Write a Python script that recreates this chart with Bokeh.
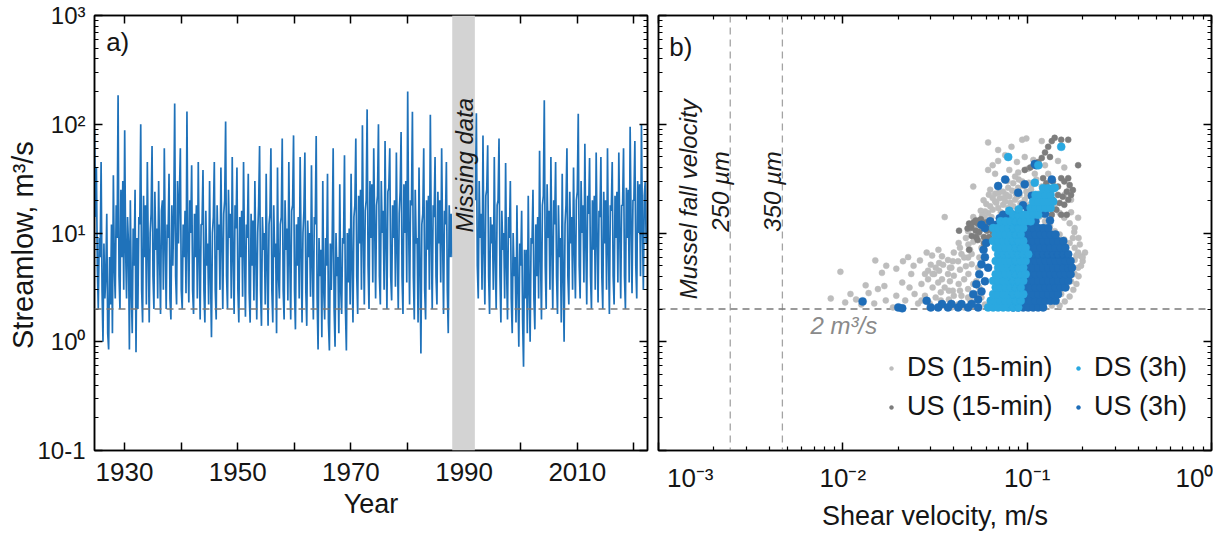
import math
from bokeh.plotting import figure
from bokeh.layouts import row
from bokeh.models import (FixedTicker, LinearAxis, LogAxis, Span, BoxAnnotation, Label,
                          Legend, LegendItem, CustomJSTickFormatter, Range1d)
from bokeh.embed import file_html
from bokeh.resources import INLINE

FONT = "Liberation Sans"

# ------------------------------------------------------------------ data
samples_per_year = 6
flow_start_pre = 1924.7
flow_pre = [
    90, 14, 40, 5, 2.0, 9,     6, 45, 3, 1.0, 8, 2.5,     4, 15, 1.2, 0.85, 6, 2.2,
    12, 1.2, 34, 5, 2.5, 18,   9, 185, 4, 2.0, 25, 6,     30, 3, 88, 7, 2.5, 14,
    8, 0.85, 20, 3, 1.2, 11,   5, 25, 0.8, 9, 2.0, 14,    12, 100, 3, 1.5, 22, 6,
    18, 2.2, 45, 7, 1.5, 10,   15, 63, 4, 2.0, 24, 7,     11, 2.5, 30, 6, 1.8, 16,
    20, 3, 60, 8, 2.0, 12,     9, 35, 2.5, 1.6, 18, 5,    14, 155, 4, 2.2, 30, 8,
    22, 60, 3, 2.0, 12, 6,     16, 2.8, 131, 7, 2.3, 20,  10, 42, 3, 1.8, 15, 6,
    18, 2.5, 45, 6, 1.6, 12,   12, 38, 3, 1.5, 16, 5,     8, 2.2, 30, 4, 1.1, 10,
    14, 45, 3, 1.6, 18, 7,     12, 3, 40, 8, 2.0, 15,     20, 106, 4, 2.0, 25, 9,
    15, 2.5, 50, 6, 1.8, 18,   11, 40, 3, 1.5, 14, 6,     16, 2.6, 45, 7, 1.7, 12,
    9, 35, 2.8, 1.5, 15, 5,    13, 2.4, 30, 6, 1.6, 10,   18, 63, 3, 1.4, 14, 7,
    10, 2.2, 35, 5, 1.4, 12,   15, 60, 3, 1.5, 18, 6,     8, 1.2, 40, 4, 2.5, 12,
    14, 74, 3, 1.6, 20, 7,     11, 2.4, 45, 6, 1.6, 16,   18, 79, 3, 1.3, 12, 5,
    14, 2.5, 50, 7, 1.5, 10,   16, 55, 3, 1.4, 13, 6,     10, 2.6, 42, 5, 1.6, 14,
    12, 78, 2.5, 0.85, 9, 4,   7, 1.1, 30, 3, 1.6, 9,     5, 35, 1.5, 0.83, 8, 3,
    9, 60, 2, 0.9, 10, 4,      6, 1.2, 28, 3, 1.8, 9,     8, 52, 2, 0.83, 10, 3.5,
    11, 2.2, 35, 5, 1.5, 14,   18, 74, 4, 1.8, 22, 8,     25, 3, 98, 10, 2.2, 16,
    20, 137, 5, 2.0, 30, 9,    28, 3.5, 60, 12, 2.5, 18,  22, 100, 4, 2.2, 30, 10,
    16, 3, 70, 8, 2.0, 24,     26, 60, 4, 2.4, 18, 9,     20, 3.2, 55, 7, 2.0, 15,
    24, 85, 4, 1.8, 28, 10,    30, 3.5, 200, 12, 2.2, 20, 18, 130, 4, 1.6, 25, 8,
    9, 1.5, 40, 5, 0.78, 12,   15, 60, 3, 1.6, 20, 7,     22, 3, 122, 9, 2.0, 18,
    14, 50, 4, 2.2, 24, 8,     20, 3.5, 60, 9, 1.8, 16,   12, 45, 3, 1.2, 18, 6,
    15, 6,
]
flow_start_post = 1992.0
flow_post = [
    20, 126, 5, 2.5, 30, 9,    15, 3, 79, 7, 2.2, 22,     25, 64, 4, 1.8, 14, 8,
    12, 3, 50, 6, 2.0, 18,     20, 74, 4, 1.5, 16, 7,     10, 2.5, 44, 5, 1.6, 14,
    9, 30, 2.5, 1.2, 10, 4,    6, 1.5, 18, 3, 0.9, 8,     5, 16, 1.6, 0.59, 7, 2.5,
    7, 1.2, 22, 3, 1.0, 9,     8, 25, 2.5, 1.3, 12, 4,    14, 2.5, 57, 6, 1.6, 18,
    22, 166, 5, 2.0, 28, 9,    16, 3, 50, 7, 2.0, 20,     12, 45, 4, 1.8, 18, 6,
    9, 1.5, 35, 4, 1.0, 12,    18, 60, 4, 2.2, 24, 8,     14, 3, 40, 7, 2.5, 20,
    24, 125, 5, 2.5, 30, 10,   18, 3.5, 66, 8, 2.2, 22,   15, 49, 4, 2.0, 20, 7,
    22, 3, 55, 9, 2.3, 16,     14, 50, 4, 2.0, 24, 8,     20, 3, 60, 7, 1.8, 18,
    16, 45, 4, 2.2, 22, 9,     24, 3.5, 55, 10, 2.5, 18,  18, 60, 4, 2.0, 26, 9,
    25, 3.5, 95, 12, 2.8, 20,  20, 70, 5, 2.5, 30, 10,    28, 4, 100, 12, 3.0, 22,
    30, 8,
]
missing_span = [1987.9, 1991.9]
threshold_flow = 2.0
fall_velocities = [0.00245, 0.0047]
fall_labels = ["250 µm", "350 µm"]

year_ticks = [1930, 1940, 1950, 1960, 1970, 1980, 1990, 2000, 2010, 2020]
year_labels = ["1930", "", "1950", "", "1970", "", "1990", "", "2010", ""]
flow_ticks = [0.1, 1, 10, 100, 1000]
flow_labels = ["10-1", "10\u2070", "10\u00b9", "10\u00b2", "10\u00b3"]
shear_ticks = [0.001, 0.01, 0.1, 1.0]
shear_labels = ["10\u207b\u00b3", "10\u207b\u00b2", "10\u207b\u00b9", "10\u2070"]

# (shear velocity m/s, streamflow m3/s)
ds15 = [
    (0.0086, 2.5), (0.0097, 4.4), (0.0103, 2.3), (0.0110, 2.75), (0.0118, 2.45), (0.0126, 2.2),
    (0.0133, 3.3), (0.0138, 2.8), (0.0148, 2.25), (0.0155, 3.05), (0.0150, 5.6), (0.0172, 5.0),
    (0.0195, 4.7), (0.0212, 5.5), (0.0226, 6.0), (0.0242, 5.0), (0.0262, 5.6), (0.0285, 6.6),
    (0.0305, 6.2), (0.0330, 7.0),
    (0.0163, 4.3), (0.0168, 3.25), (0.0171, 2.4), (0.0187, 2.07), (0.0195, 2.65), (0.0210, 3.5),
    (0.0218, 2.4), (0.0230, 3.15), (0.0235, 4.2), (0.0245, 2.75), (0.0256, 2.25), (0.0267, 3.4),
    (0.0279, 2.65), (0.0290, 3.75), (0.0296, 2.25), (0.0300, 5.1), (0.0307, 3.15), (0.0313, 4.2),
    (0.0319, 2.55), (0.0329, 3.5), (0.0333, 4.5), (0.0340, 2.85), (0.0345, 3.75), (0.0350, 5.1),
    (0.0357, 14.0), (0.0357, 3.15), (0.0372, 4.2), (0.0376, 2.45), (0.0381, 3.6), (0.0388, 4.8),
    (0.0395, 2.95), (0.0400, 4.05), (0.0422, 5.5), (0.0422, 2.2), (0.0425, 3.4), (0.0432, 4.6),
    (0.0440, 6.4), (0.0440, 2.65), (0.0455, 3.75), (0.0465, 4.95), (0.0478, 3.05), (0.0478, 5.95),
    (0.0480, 4.2), (0.0490, 7.0), (0.0490, 2.4), (0.0500, 5.15), (0.0510, 3.4), (0.0510, 8.3),
    (0.0530, 2.75), (0.0542, 4.8), (0.0550, 5.95), (0.0565, 7.3), (0.0580, 8.3), (0.0500, 6.4),
    (0.0480, 7.85), (0.0465, 9.0), (0.0432, 7.3), (0.0455, 5.95), (0.0425, 8.1), (0.0400, 6.6),
    (0.0395, 5.5), (0.0381, 4.8), (0.0372, 5.65), (0.0345, 6.1), (0.0333, 5.3), (0.0319, 4.8),
    (0.0307, 4.2), (0.0290, 4.5), (0.0279, 4.2), (0.0267, 2.4), (0.0340, 2.4), (0.0350, 2.15),
    (0.0388, 2.07), (0.0455, 2.07), (0.0542, 2.07), (0.0530, 3.6), (0.0550, 3.15), (0.0565, 2.55),
    (0.0590, 2.2), (0.0432, 2.95), (0.0478, 2.55), (0.0500, 2.3), (0.0376, 2.95), (0.0400, 2.65),
    (0.0542, 11.1), (0.0565, 12.8), (0.0590, 13.8), (0.0614, 15.3), (0.0650, 16.4), (0.0696, 17.0),
    (0.0740, 18.2), (0.0789, 17.0), (0.0840, 17.6), (0.0542, 9.7), (0.0590, 15.8), (0.0630, 17.6),
    (0.0670, 19.5), (0.0710, 20.9), (0.0760, 19.5), (0.0800, 21.7), (0.0860, 20.2), (0.0910, 22.4),
    (0.0970, 20.2), (0.1030, 18.2), (0.1100, 15.8), (0.1170, 14.2), (0.1250, 12.8), (0.1330, 11.5),
    (0.1410, 10.4), (0.1500, 9.7), (0.1590, 8.7), (0.1700, 8.1), (0.1810, 7.3), (0.1890, 6.6),
    (0.1960, 6.1), (0.2060, 6.6), (0.2000, 5.5), (0.1890, 4.8), (0.1810, 4.2), (0.1730, 3.6),
    (0.1640, 3.15), (0.1530, 2.75), (0.1440, 2.4), (0.1360, 2.15), (0.1810, 5.65), (0.1700, 5.15),
    (0.1930, 7.85), (0.1770, 9.0), (0.0510, 26.7), (0.0630, 25.0), (0.0670, 23.0), (0.0696, 27.7),
    (0.0740, 24.0), (0.0789, 26.0), (0.0840, 28.7), (0.0894, 26.0), (0.0940, 29.8), (0.0990, 24.0),
    (0.1060, 27.7), (0.1120, 31.0), (0.1200, 26.7), (0.1270, 24.0), (0.1330, 21.6), (0.0614, 38.0),
    (0.0650, 42.0), (0.0670, 35.0), (0.0696, 46.0), (0.0614, 68.0), (0.0696, 58.0), (0.0760, 52.0),
    (0.0822, 62.0), (0.0940, 72.0), (0.0990, 74.0), (0.0970, 50.0), (0.0880, 45.0), (0.0800, 38.0),
    (0.0894, 36.0), (0.1010, 39.0), (0.1080, 47.0), (0.1100, 35.0), (0.1200, 70.0), (0.1250, 42.0),
    (0.1300, 35.0), (0.1470, 46.0), (0.1590, 40.0), (0.1700, 25.7), (0.1590, 22.4), (0.1730, 20.2),
    (0.1500, 15.3), (0.1590, 13.8), (0.1700, 12.3), (0.1810, 11.1), (0.1730, 15.5), (0.1890, 13.8),
    (0.1410, 18.2), (0.1360, 16.4), (0.1250, 17.0), (0.0510, 14.0), (0.0490, 11.1), (0.0478, 10.4),
    (0.0560, 16.0), (0.0600, 18.5), (0.0650, 21.0), (0.0700, 23.5), (0.0720, 15.5), (0.0770, 22.5),
    (0.0830, 24.5), (0.0870, 23.0), (0.0920, 18.8), (0.0960, 27.0), (0.1000, 22.0), (0.1050, 25.0),
    (0.1090, 20.5), (0.1150, 23.0), (0.1180, 17.5), (0.0580, 20.0), (0.0620, 22.5), (0.0680, 19.0),
    (0.0750, 21.0), (0.0810, 19.0), (0.0880, 21.5), (0.0540, 13.0), (0.0570, 14.5), (0.0640, 14.0),
    (0.1220, 21.0), (0.1290, 19.5), (0.1020, 29.0), (0.0900, 31.0), (0.0780, 30.0), (0.0860, 33.0),
    (0.1850, 3.4), (0.1900, 4.0), (0.1960, 5.0), (0.1780, 3.0), (0.1700, 2.6), (0.1600, 2.35),
    (0.1500, 2.15), (0.2000, 6.0), (0.1850, 6.2), (0.1900, 9.0), (0.1800, 10.2),
]
us15 = [
    (0.0475, 11.0), (0.0484, 12.2), (0.0500, 9.4), (0.0512, 12.5), (0.0526, 10.5), (0.0528, 9.2),
    (0.0539, 12.2), (0.0550, 10.2), (0.0561, 11.8), (0.0583, 9.2), (0.0596, 12.5), (0.0605, 10.5),
    (0.0622, 9.2), (0.0638, 12.2), (0.0649, 10.2), (0.0660, 8.6), (0.0526, 13.0), (0.0561, 13.4),
    (0.0500, 11.2), (0.0539, 8.6), (0.0596, 8.2), (0.0427, 10.5), (0.0484, 7.0), (0.0583, 8.0),
    (0.0622, 11.0), (0.1220, 31.9), (0.1270, 28.7), (0.1330, 25.7), (0.1380, 29.8), (0.1470, 26.7),
    (0.1530, 31.9), (0.1590, 29.8), (0.1670, 31.9), (0.1700, 27.7), (0.1640, 24.0), (0.1560, 21.6),
    (0.1500, 18.9), (0.1590, 18.2), (0.1670, 20.2), (0.1730, 22.4), (0.1440, 16.4), (0.1530, 14.7),
    (0.1360, 14.7), (0.1470, 22.4), (0.1300, 23.0), (0.1380, 20.2), (0.1250, 25.0), (0.1770, 24.8),
    (0.1640, 14.7), (0.0970, 38.0), (0.1040, 40.0), (0.1100, 42.0), (0.1150, 45.0), (0.1200, 49.0),
    (0.1250, 55.0), (0.1300, 62.0), (0.1360, 70.0), (0.1410, 75.0), (0.1530, 72.0), (0.1670, 72.0),
    (0.1890, 42.0), (0.1330, 50.0),
]
ds3h = [
    (0.0614, 2.07), (0.0654, 2.07), (0.0696, 2.07), (0.0741, 2.07), (0.0789, 2.07), (0.0840, 2.07), (0.0894, 2.07),
    (0.0634, 2.38), (0.0675, 2.38), (0.0718, 2.38), (0.0764, 2.38), (0.0813, 2.38), (0.0866, 2.38), (0.0922, 2.38),
    (0.0654, 2.74), (0.0696, 2.74), (0.0741, 2.74), (0.0789, 2.74), (0.0840, 2.74), (0.0894, 2.74), (0.0952, 2.74),
    (0.0675, 3.16), (0.0718, 3.16), (0.0764, 3.16), (0.0813, 3.16), (0.0866, 3.16), (0.0922, 3.16),
    (0.0654, 3.63), (0.0696, 3.63), (0.0741, 3.63), (0.0789, 3.63), (0.0840, 3.63), (0.0894, 3.63), (0.0952, 3.63),
    (0.0675, 4.18), (0.0718, 4.18), (0.0764, 4.18), (0.0813, 4.18), (0.0866, 4.18), (0.0922, 4.18), (0.0981, 4.18),
    (0.0696, 4.8), (0.0741, 4.8), (0.0789, 4.8), (0.0840, 4.8), (0.0894, 4.8), (0.0952, 4.8),
    (0.0675, 5.53), (0.0718, 5.53), (0.0764, 5.53), (0.0813, 5.53), (0.0866, 5.53), (0.0922, 5.53), (0.0981, 5.53),
    (0.0696, 6.36), (0.0741, 6.36), (0.0789, 6.36), (0.0840, 6.36), (0.0894, 6.36), (0.0952, 6.36), (0.1013, 6.36),
    (0.0675, 7.32), (0.0718, 7.32), (0.0764, 7.32), (0.0813, 7.32), (0.0866, 7.32), (0.0922, 7.32), (0.0981, 7.32),
    (0.0654, 8.42), (0.0696, 8.42), (0.0741, 8.42), (0.0789, 8.42), (0.0840, 8.42), (0.0894, 8.42), (0.0952, 8.42),
    (0.0675, 9.68), (0.0718, 9.68), (0.0764, 9.68), (0.0813, 9.68), (0.0866, 9.68), (0.0922, 9.68),
    (0.0654, 11.1), (0.0696, 11.1), (0.0741, 11.1), (0.0789, 11.1), (0.0840, 11.1), (0.0894, 11.1), (0.0952, 11.1),
    (0.0718, 12.8), (0.0764, 12.8), (0.0813, 12.8), (0.0866, 12.8), (0.0922, 12.8), (0.0981, 12.8), (0.1044, 12.8),
    (0.0840, 14.7), (0.0894, 14.7), (0.0952, 14.7), (0.1013, 14.7), (0.1078, 14.7), (0.1147, 14.7),
    (0.1044, 17.0), (0.1110, 17.0), (0.1182, 17.0), (0.1258, 17.0), (0.1340, 17.0),
    (0.1078, 19.5), (0.1147, 19.5), (0.1221, 19.5), (0.1300, 19.5), (0.1384, 19.5),
    (0.1110, 22.4), (0.1182, 22.4), (0.1258, 22.4), (0.1340, 22.4),
    (0.1221, 25.8), (0.1300, 25.8), (0.1384, 25.8),
    (0.0789, 50.0), (0.1150, 42.0), (0.1530, 62.0), (0.1100, 29.0), (0.1410, 26.0), (0.0800, 16.0),
    (0.0900, 16.5),
]
us3h = [
    (0.0840, 2.07), (0.0894, 2.07), (0.0952, 2.07), (0.1013, 2.07), (0.1078, 2.07), (0.1147, 2.07), (0.1221, 2.07),
    (0.0866, 2.38), (0.0922, 2.38), (0.0981, 2.38), (0.1044, 2.38), (0.1110, 2.38), (0.1182, 2.38), (0.1258, 2.38),
    (0.1340, 2.38), (0.1425, 2.38),
    (0.0840, 2.74), (0.0894, 2.74), (0.0952, 2.74), (0.1013, 2.74), (0.1078, 2.74), (0.1147, 2.74), (0.1221, 2.74),
    (0.1300, 2.74), (0.1384, 2.74), (0.1470, 2.74),
    (0.0866, 3.16), (0.0922, 3.16), (0.0981, 3.16), (0.1044, 3.16), (0.1110, 3.16), (0.1182, 3.16), (0.1258, 3.16),
    (0.1340, 3.16), (0.1425, 3.16), (0.1520, 3.16), (0.1610, 3.16),
    (0.0894, 3.63), (0.0952, 3.63), (0.1013, 3.63), (0.1078, 3.63), (0.1147, 3.63), (0.1221, 3.63), (0.1300, 3.63),
    (0.1384, 3.63), (0.1470, 3.63), (0.1570, 3.63), (0.1670, 3.63),
    (0.0922, 4.18), (0.0981, 4.18), (0.1044, 4.18), (0.1110, 4.18), (0.1182, 4.18), (0.1258, 4.18), (0.1340, 4.18),
    (0.1425, 4.18), (0.1520, 4.18), (0.1610, 4.18), (0.1720, 4.18),
    (0.0952, 4.8), (0.1013, 4.8), (0.1078, 4.8), (0.1147, 4.8), (0.1221, 4.8), (0.1300, 4.8), (0.1384, 4.8),
    (0.1470, 4.8), (0.1570, 4.8), (0.1670, 4.8), (0.1750, 4.8),
    (0.0922, 5.53), (0.0981, 5.53), (0.1044, 5.53), (0.1110, 5.53), (0.1182, 5.53), (0.1258, 5.53), (0.1340, 5.53),
    (0.1425, 5.53), (0.1520, 5.53), (0.1610, 5.53), (0.1720, 5.53),
    (0.0894, 6.36), (0.0952, 6.36), (0.1013, 6.36), (0.1078, 6.36), (0.1147, 6.36), (0.1221, 6.36), (0.1300, 6.36),
    (0.1384, 6.36), (0.1470, 6.36), (0.1570, 6.36), (0.1670, 6.36),
    (0.0866, 7.32), (0.0922, 7.32), (0.0981, 7.32), (0.1044, 7.32), (0.1110, 7.32), (0.1182, 7.32), (0.1258, 7.32),
    (0.1340, 7.32), (0.1425, 7.32), (0.1520, 7.32), (0.1610, 7.32),
    (0.0840, 8.42), (0.0894, 8.42), (0.0952, 8.42), (0.1013, 8.42), (0.1078, 8.42), (0.1147, 8.42), (0.1221, 8.42),
    (0.1300, 8.42), (0.1384, 8.42), (0.1470, 8.42), (0.1570, 8.42),
    (0.0813, 9.68), (0.0866, 9.68), (0.0922, 9.68), (0.0981, 9.68), (0.1044, 9.68), (0.1110, 9.68), (0.1182, 9.68),
    (0.1258, 9.68), (0.1340, 9.68), (0.1425, 9.68),
    (0.0789, 11.1), (0.0840, 11.1), (0.0894, 11.1), (0.0952, 11.1), (0.1013, 11.1), (0.1078, 11.1), (0.1147, 11.1),
    (0.1221, 11.1), (0.1300, 11.1),
    (0.0764, 12.8), (0.0813, 12.8), (0.0866, 12.8), (0.0922, 12.8), (0.0981, 12.8), (0.1044, 12.8), (0.1110, 12.8),
    (0.0741, 14.7), (0.0789, 14.7), (0.0840, 14.7),
    (0.0128, 2.35), (0.0200, 2.07), (0.0210, 2.03), (0.0285, 2.38), (0.0300, 2.07), (0.0329, 2.07),
    (0.0345, 2.22), (0.0372, 2.07), (0.0388, 2.22), (0.0422, 2.07), (0.0440, 2.22), (0.0478, 2.07),
    (0.0500, 2.22), (0.0542, 2.07), (0.0542, 2.45), (0.0510, 2.74), (0.0530, 3.38), (0.0550, 4.18),
    (0.0565, 5.15), (0.0590, 6.0), (0.0580, 7.0), (0.0600, 8.1), (0.0590, 11.1), (0.0565, 11.9),
    (0.0630, 12.8), (0.0680, 11.9), (0.0710, 13.7), (0.0614, 4.8), (0.0590, 3.6), (0.0565, 2.9),
    (0.0760, 31.0), (0.0696, 27.0), (0.0894, 23.5), (0.0970, 28.0), (0.1060, 22.0), (0.1100, 43.0),
    (0.1120, 42.0), (0.1360, 31.0), (0.0950, 18.0), (0.1010, 16.5), (0.1100, 17.5), (0.1250, 15.0),
    (0.1330, 13.0), (0.1200, 19.0), (0.1270, 17.0),
]

# ------------------------------------------------------------------ helpers
flow_minor = [m * 10 ** e for e in range(-1, 3) for m in range(2, 10)]
shear_minor = [m * 10 ** e for e in range(-3, 0) for m in range(2, 10)]
NBSP = "\u00a0"


def empty_fmt():
    return CustomJSTickFormatter(code="return '';")


def label_fmt(tick_vals, tick_text, use_log):
    return CustomJSTickFormatter(args=dict(tv=tick_vals, tt=tick_text, lg=use_log), code="""
        let best = 0, bd = Infinity;
        for (let i = 0; i < tv.length; i++) {
            const d = lg ? Math.abs(Math.log10(tv[i]) - Math.log10(tick)) : Math.abs(tv[i] - tick);
            if (d < bd) { bd = d; best = i; }
        }
        return tt[best];
    """)


def style_axis(ax, label_size="26px"):
    ax.axis_line_width = 1.5
    ax.axis_line_color = "black"
    ax.major_tick_in = 8
    ax.major_tick_out = 0
    ax.minor_tick_in = 4
    ax.minor_tick_out = 0
    ax.major_tick_line_width = 1.5
    ax.minor_tick_line_width = 1.2
    ax.major_tick_line_color = "black"
    ax.minor_tick_line_color = "black"
    ax.major_label_text_font = FONT
    ax.major_label_text_font_size = label_size
    ax.major_label_text_color = "#151515"
    ax.axis_label_text_font = FONT
    ax.axis_label_text_font_size = "27px"
    ax.axis_label_text_font_style = "normal"
    ax.axis_label_text_color = "#151515"


def mirror(ax):
    style_axis(ax)
    ax.formatter = empty_fmt()
    ax.major_label_standoff = 0
    ax.axis_label = None


# ------------------------------------------------------------------ panel a
p1 = figure(width=652, height=533, x_range=Range1d(1924.7, 2022.4), y_range=Range1d(0.1, 1000),
            y_axis_type="log", output_backend="svg", toolbar_location=None,
            min_border_left=94, min_border_right=5, min_border_top=15, min_border_bottom=80)
p1.grid.visible = False
p1.outline_line_color = "black"
p1.outline_line_width = 1.5
p1.background_fill_color = "white"

xa = p1.xaxis[0]
style_axis(xa)
xa.ticker = FixedTicker(ticks=year_ticks)
xa.formatter = label_fmt(year_ticks, year_labels, False)
xa.minor_tick_line_color = None
xa.axis_label = "Year"
xa.major_label_standoff = 12
xa.axis_label_standoff = 5

ya = p1.yaxis[0]
style_axis(ya, "24px")
ya.ticker = FixedTicker(ticks=flow_ticks, minor_ticks=flow_minor)
ya.formatter = label_fmt(flow_ticks, flow_labels, True)
# trailing no-break spaces move the rotated title slightly downwards, as in the original
ya.axis_label = "Streamlow, m\u00b3/s" + NBSP * 3
ya.axis_label_text_font_size = "29px"
ya.major_label_standoff = 9
ya.axis_label_standoff = -5

top1 = LinearAxis(ticker=FixedTicker(ticks=year_ticks))
mirror(top1)
top1.minor_tick_line_color = None
p1.add_layout(top1, "above")
right1 = LogAxis(ticker=FixedTicker(ticks=flow_ticks, minor_ticks=flow_minor))
mirror(right1)
p1.add_layout(right1, "right")

t_pre = [flow_start_pre + i / samples_per_year for i in range(len(flow_pre))]
t_post = [flow_start_post + i / samples_per_year for i in range(len(flow_post))]
p1.line(t_pre, flow_pre, line_color="#1f72ba", line_width=1.7)
p1.line(t_post, flow_post, line_color="#1f72ba", line_width=1.7)

p1.add_layout(Span(location=threshold_flow, dimension="width", line_color="#7a7a7a",
                   line_dash="7 5", line_width=1.3))
p1.add_layout(BoxAnnotation(left=missing_span[0], right=missing_span[1], fill_color="#d3d3d3",
                            fill_alpha=1.0, line_color=None))
p1.add_layout(Label(x=(missing_span[0] + missing_span[1]) / 2 + 0.1, y=42, text="Missing data",
                    angle=math.pi / 2, text_align="center", text_baseline="middle",
                    text_font=FONT, text_font_size="24px", text_font_style="italic",
                    text_color="#1a1a1a"))
p1.add_layout(Label(x=1928.8, y=565, text="a)", text_align="center", text_baseline="middle",
                    text_font=FONT, text_font_size="26px", text_color="#151515"))

# ------------------------------------------------------------------ panel b
p2 = figure(width=561, height=533, x_range=Range1d(0.001, 1.0), y_range=Range1d(0.1, 1000),
            x_axis_type="log", y_axis_type="log", output_backend="svg", toolbar_location=None,
            min_border_left=6, min_border_right=2, min_border_top=15, min_border_bottom=80)
p2.grid.visible = False
p2.outline_line_color = "black"
p2.outline_line_width = 1.5

xb = p2.xaxis[0]
style_axis(xb)
xb.ticker = FixedTicker(ticks=shear_ticks, minor_ticks=shear_minor)
# the first label is kept inside the canvas; two no-break spaces nudge it right as in the original
shear_shown = list(shear_labels)
shear_shown[0] = NBSP * 2 + shear_shown[0]
xb.formatter = label_fmt(shear_ticks, shear_shown, True)
xb.axis_label = "Shear velocity, m/s"
xb.major_label_standoff = 12
xb.axis_label_standoff = 5

yb = p2.yaxis[0]
mirror(yb)
yb.ticker = FixedTicker(ticks=flow_ticks, minor_ticks=flow_minor)
top2 = LogAxis(ticker=FixedTicker(ticks=shear_ticks, minor_ticks=shear_minor))
mirror(top2)
p2.add_layout(top2, "above")
right2 = LogAxis(ticker=FixedTicker(ticks=flow_ticks, minor_ticks=flow_minor))
mirror(right2)
p2.add_layout(right2, "right")

for v in fall_velocities:
    p2.add_layout(Span(location=v, dimension="height", line_color="#a3a3a3",
                       line_dash="7 5", line_width=1.3, level="underlay"))
p2.add_layout(Span(location=threshold_flow, dimension="width", line_color="#7a7a7a",
                   line_dash="7 5", line_width=1.3, level="underlay"))

series = {
    "DS (15-min)": (ds15, "#bdbdbd", 6),
    "US (15-min)": (us15, "#7d7d7d", 6),
    "DS (3h)": (ds3h, "#2aa8e0", 8),
    "US (3h)": (us3h, "#1e6db8", 8),
}
draw_order = ["DS (15-min)", "US (15-min)", "US (3h)", "DS (3h)"]
legend_order = ["DS (15-min)", "US (15-min)", "DS (3h)", "US (3h)"]
renderers = {}
for name in draw_order:
    pts, col, sz = series[name]
    renderers[name] = p2.scatter([p[0] for p in pts], [p[1] for p in pts], size=sz,
                                 fill_color=col, line_color=col, line_width=0.5)

legend = Legend(items=[LegendItem(label=n, renderers=[renderers[n]]) for n in legend_order],
                location=(228, 28), orientation="vertical", ncols=2,
                label_text_font=FONT, label_text_font_size="27px", label_text_color="#151515",
                glyph_width=10, glyph_height=10, label_standoff=11, spacing=8, label_width=158,
                padding=0, margin=0, border_line_color=None, background_fill_alpha=0)
p2.add_layout(legend)

ann = dict(text_font=FONT, text_font_size="24px", text_font_style="italic", text_color="#1a1a1a")
p2.add_layout(Label(x=0.00145, y=20.4, text="Mussel fall velocity", angle=math.pi / 2,
                    text_align="center", text_baseline="middle", **ann))
p2.add_layout(Label(x=0.00217, y=24.1, text=fall_labels[0], angle=math.pi / 2,
                    text_align="center", text_baseline="middle", **ann))
p2.add_layout(Label(x=0.00416, y=24.1, text=fall_labels[1], angle=math.pi / 2,
                    text_align="center", text_baseline="middle", **ann))
p2.add_layout(Label(x=0.00668, y=1.41, text="2 m\u00b3/s", text_align="left", text_baseline="middle",
                    text_font=FONT, text_font_size="24px", text_font_style="italic",
                    text_color="#8a8a8a"))
p2.add_layout(Label(x=0.00132, y=508, text="b)", text_align="center", text_baseline="middle",
                    text_font=FONT, text_font_size="26px", text_color="#151515"))

layout = row(p1, p2)
open("out.html", "w").write(file_html(layout, INLINE))
